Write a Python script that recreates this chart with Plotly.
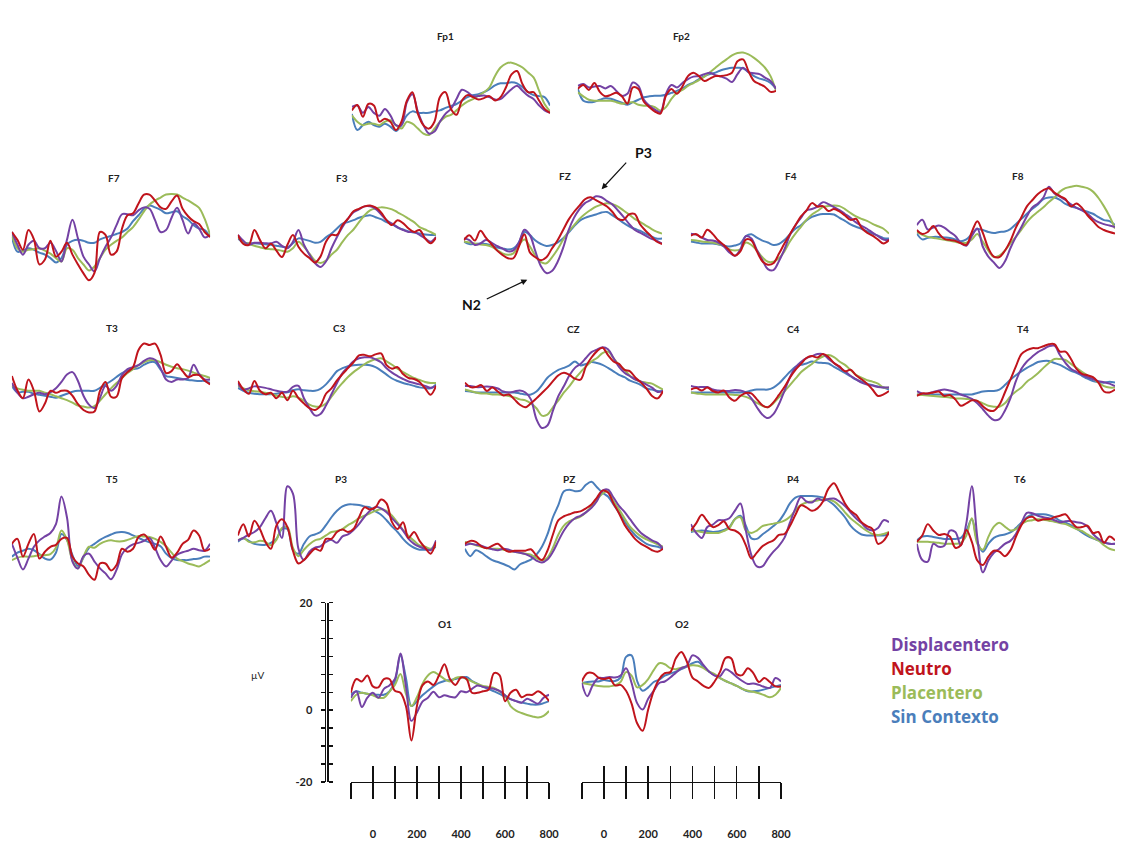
import plotly.graph_objects as go

W, H = 1125, 846

# ---------------- data (µV) ----------------
TIMES = list(range(-100, 801, 25))  # ms
CONDITIONS = ["Displacentero", "Neutro", "Placentero", "Sin Contexto"]
COLORS = ["#7442A4", "#C0141C", "#9BBB59", "#4A7EBB"]

FP1_DISP = [1.7, 2, 0.5, 1.7, 0.5, -0.1, 1.3, 0, -2, -2, 2.7, 4.3, 0.7, -2, -3.7, -3.3, -1.3, 0.3, 1.3, 3.3, 5.2, 4.7, 3.9, 3.9, 4, 3.7, 3.2, 3.3, 4.3, 5.3, 6, 5, 4, 3.3, 2, 1, 0.5]
FP1_NEU = [1, 2.1, -0.3, 2.3, 2, -1.3, -0.7, -1.3, -3, -1.3, 3, 4.7, 0.3, -2, -2.7, -1.3, 3.7, 4.7, 1.3, 0.1, 3, 4.1, 3.7, 3.2, 3.5, 3.9, 3, 3.7, 5.7, 8.3, 9, 6.3, 4.7, 4.7, 3, 1.3, 0.5]
FP1_PLA = [0, -1.3, -2, -1.7, -1.7, -2, -1.3, -1, -2, -2.7, -1.3, -1.7, -2.7, -3.7, -4, -2.7, -1.3, -0.3, 0.1, 1, 2, 2.8, 3.3, 4, 4.7, 5.7, 8, 9.7, 10.5, 10.7, 10.3, 9.7, 8.7, 7.7, 5, 2.3, 0.8]
FP1_SIN = [0.3, -3, -2, -1.3, -2, -2.3, -1.7, -2.3, -3.2, -2, 0, 0.8, 0.5, 0.5, 0.5, 0.8, 1, 1.5, 1.9, 2.3, 3, 3.7, 4.1, 4.3, 4.7, 5.3, 6.1, 6.5, 6.5, 6.7, 6.5, 5.7, 4.7, 4.1, 3.9, 3.7, 2]

FP2_DISP = [1.3, 1.7, 1, 1.2, 1.3, 0.8, 1.3, 0.3, -0.7, -0.3, 2, 1.3, -1.5, -2.7, -3.5, -4, -0.3, 1.5, 1, 1.9, 2.7, 3.2, 3.3, 3.7, 4, 3.5, 3.2, 2.8, 2.1, 3.7, 5, 4.1, 3.9, 3.7, 3, 2.3, 0.7]
FP2_NEU = [0.7, 1.5, 0.5, 1.9, 0.1, -0.8, -0.5, -0.1, -0.8, -2.3, 1, 0.7, -1.9, -3, -3.9, -4.3, -0.7, 0.7, -0.3, 1.2, 3.3, 4, 3.3, 2.3, 2.8, 3.3, 3.3, 3.5, 4, 6.3, 6.7, 4.3, 2.3, 1.7, 1.1, 0.1, 0.3]
FP2_PLA = [0, -0.8, -1.5, -1.7, -1.7, -1.7, -1.7, -2, -2.3, -2.1, -2, -2.5, -2.7, -2.7, -3, -3.7, -3, -1.3, -0.1, 0.5, 1.3, 1.9, 2.5, 3.2, 4.1, 5, 5.9, 6.7, 7.5, 8, 8.1, 7.7, 7, 6.1, 5, 3.3, 0.3]
FP2_SIN = [0.7, -1.7, -2, -1.9, -1.5, -1.2, -1.3, -1.7, -2.1, -2.5, -2, -1.5, -1, -0.8, -0.7, -0.7, -0.5, -0.1, 0.3, 0.8, 1.5, 2, 2.7, 3.3, 3.7, 4, 4.5, 4.8, 5, 5, 4.9, 4.1, 3.3, 2.8, 2.5, 1.9, 0.7]

F7_DISP = [2.3, -0.3, -2.3, -0.3, 0.5, -1, -1, 0.1, -1.5, -3.7, 0.7, 4.8, 1, -2.7, -4.3, -5.7, -3, -0.7, 1.2, 3.7, 5.9, 5.9, 5.7, 6.7, 7.3, 7, 4.7, 2.3, 2.7, 5.2, 7.2, 4.7, 2, 4, 3, 1.2, 1.7]
F7_NEU = [2.3, 0.7, -1.3, 2.7, 0.8, -4.3, -3.3, 0.5, -2.7, -1.7, 0.1, -2.3, -4.3, -6.1, -7.5, -6, 2.3, 1.7, -2.3, -1.7, 3, 5.7, 6.1, 8.1, 9.9, 9.9, 8.7, 7.3, 7, 8.5, 9.7, 7, 5.5, 4.5, 3.9, 2.3, 1.3]
F7_PLA = [1.7, -1, -1.7, -1.3, -1.2, -1, -1.5, -2.1, -3, -3.7, -1, -1.3, -3, -4.3, -5.5, -4.7, -3, -1.3, -0.3, 0.5, 1.2, 2.3, 3.3, 4.8, 6.5, 7.9, 8.7, 9.3, 9.9, 10, 9.9, 9.3, 8.7, 8, 7.2, 5, 1.7]
F7_SIN = [1.3, -1.7, -1.5, -1, -1.3, -1.9, -2.3, -3, -3.9, -3, -0.3, 0.5, 0.7, 0.5, 0.1, 0.1, 0.8, 1.2, 1.5, 1.9, 2.3, 3, 4.5, 5.7, 7, 7.7, 7.3, 6.8, 6.1, 6.3, 6.5, 5.5, 4.8, 3.7, 3, 2.7, 1.3]

F3_DISP = [1.7, 0.5, -0.3, 0.1, 0.1, 0, 0, 0.3, -0.5, -1, 0.3, 2.7, -0.3, -2.3, -4, -4.8, -3.7, -1, 1.3, 3.3, 5, 6.3, 6.9, 7.5, 7.5, 7, 5.9, 4.7, 4, 3.3, 2.7, 2.3, 2.3, 1.7, 1, 0.3, 1.3]
F3_NEU = [1.7, -0.1, -0.3, 2.7, 0.7, -1, -0.1, -1.5, -2.8, -0.3, 1.7, -0.7, -2.1, -3, -3.9, -2.7, 0.3, 1.7, 1.7, 3.7, 5, 6.5, 7, 7.5, 7.7, 7.3, 6.3, 4.7, 3.7, 4.7, 4.1, 3, 2.3, 2.7, 1, 0, 1.2]
F3_PLA = [1.3, 0.3, -0.1, -0.5, -0.8, -1.1, -1.2, -1.3, -1.5, -1.7, -1, 0.3, -0.7, -2.1, -3.5, -4, -3.5, -2.3, -1.3, 0.3, 1.7, 2.8, 4.3, 5.7, 6.7, 7.1, 7.3, 7.2, 6.9, 6.3, 5.7, 5, 4.3, 3.3, 2.8, 2.3, 1.7]
F3_SIN = [1, 0.1, 0, 0, -0.1, -0.2, -0.3, -0.5, -0.7, -0.8, 0, 1, 0.8, 0.5, 0.1, 0.3, 1.2, 2, 3, 4, 4.3, 4.7, 5.2, 5.5, 5.7, 5.3, 4.9, 4.3, 3.9, 3.2, 2.8, 2.4, 2.2, 2, 1.8, 1.7, 1.7]

FZ_DISP = [0.3, 0, -1, -0.7, 0, -0.5, -1.2, -1.7, -2.3, -2.1, -0.5, 2.1, 1, -2.3, -5.3, -6.7, -6.3, -4.5, -1.7, 1.9, 4.5, 6.3, 7.5, 8.1, 8.9, 8.7, 7.9, 7.2, 6, 4.7, 3.3, 2.1, 1.5, 0.9, 0.3, -0.1, -0.7]
FZ_NEU = [0, 1, -0.1, 1.9, 0.5, -0.8, -2.1, -3, -3.7, -3.7, -1.3, 1.2, -2.5, -3.5, -4.1, -3.5, -1.7, -0.1, 2, 4.1, 5.7, 7, 8.3, 8.7, 8.1, 7.5, 6.8, 5.7, 4.3, 4.1, 5.2, 5.3, 3.2, 1.9, 0.8, -0.3, -0.8]
FZ_PLA = [-0.3, -0.5, -0.7, -0.9, -1, -1.3, -2, -2.7, -3, -2.7, -1, 0.1, -1.3, -3.2, -4.5, -4.7, -3.5, -1.9, 0, 1.7, 3, 4.3, 5.3, 6.1, 6.8, 7.2, 7.5, 7.3, 6.8, 6, 5.2, 4.3, 3.7, 3, 2.3, 1.7, 1.3]
FZ_SIN = [-0.3, -0.8, -0.8, -0.7, -0.8, -1.1, -1.5, -1.7, -1.9, -1.7, -0.5, 1.7, 1, -0.1, -0.8, -1.2, -1, -0.5, 0.3, 1.5, 2.8, 3.9, 4.5, 4.9, 5.2, 5.6, 5.7, 5, 4.3, 3.5, 2.8, 2.3, 1.9, 1.3, 0.8, 0.3, 0.3]

F4_DISP = [1.3, 1.1, 0.5, 0, -0.1, -0.5, -1.3, -2.5, -3.2, -1.9, 0.8, 0.3, -2, -4.1, -5.9, -6.1, -4.3, -1.9, 1, 3, 4.5, 6, 6.3, 6.8, 7.7, 7.3, 6.7, 6.1, 5.3, 4.5, 3.6, 2.9, 2.3, 1.5, 0.8, 0.1, 0]
F4_NEU = [0.9, 1.2, 0.5, 2.1, 1.2, -0.1, -1, -2.1, -3.2, -2.3, 0.1, -0.1, -2.3, -4.3, -5, -4.7, -2.8, -0.7, 1.2, 3, 4.8, 6, 7.5, 6.8, 6.9, 5.9, 6.3, 5.8, 5, 4.1, 4.3, 2.5, 1.5, 0.9, 0.1, -0.7, 0]
F4_PLA = [0, -0.1, -0.3, -0.4, -0.5, -0.8, -1.2, -1.9, -2.1, -1.9, -0.5, -1, -2.1, -3.5, -4.4, -4.4, -3.7, -2.3, -0.3, 1.3, 2.7, 4.1, 5.2, 5.9, 6.7, 6.9, 7, 6.9, 6.3, 5.5, 4.8, 4.3, 3.9, 3.3, 2.8, 2.3, 1.3]
F4_SIN = [-0.3, -0.5, -0.7, -0.7, -0.7, -0.9, -1.1, -1.3, -1.1, -0.7, 0.8, 1.2, 0.5, -0.1, -0.5, -1, -0.8, 0, 1.2, 2.3, 3, 4, 4.7, 5.1, 5.3, 5.3, 5.2, 4.5, 3.9, 3.2, 2.7, 2.3, 1.8, 1.3, 0.9, 0.4, 0.3]

F8_DISP = [1.7, 2.8, 0.8, 1.2, 1.6, 1.2, 0.3, -0.5, -1.9, -2.5, -0.5, 1, -2.7, -4.7, -5.9, -7, -5.7, -3, -0.7, 1.3, 3.5, 5.3, 6.1, 7.3, 9.5, 8.1, 7.5, 6.8, 5.9, 5.2, 4.7, 4, 3, 2.3, 1.9, 1.6, 1.3]
F8_NEU = [0.7, -0.1, 0.3, 1.5, 0, -1.1, -1.3, -1.5, -2, -2.3, 0.3, 2.5, 0.1, -3, -4.7, -4.8, -3.5, -1.5, 1.2, 3.3, 5.5, 6.8, 8, 8.8, 9.2, 8.3, 7.6, 7, 5.5, 6.1, 5.2, 3.7, 2.5, 1.3, 0.7, 0.3, 0]
F8_PLA = [0.3, -0.3, -0.7, -0.9, -1.1, -1.3, -1.5, -1.7, -1.9, -1.9, -1.2, -0.1, -1.7, -3.5, -4.8, -4.5, -3.5, -2, -0.7, 0.8, 2.3, 3.5, 4.4, 5.3, 6.4, 7.3, 8.5, 9.2, 9.5, 9.7, 9.5, 9.2, 8.5, 7.2, 5.5, 3.5, 1]
F8_SIN = [0, -1.2, -0.9, -0.7, -0.7, -0.8, -0.9, -1.2, -1.6, -1.2, -0.1, 0.9, 0.7, 0.3, 0.1, 0.3, 0.4, 0.9, 1.9, 3, 4, 5, 5.9, 7, 7.3, 7.3, 6.8, 6, 5.5, 5.2, 4.8, 4.4, 4, 3.3, 2.7, 2.5, 1.7]

T3_DISP = [1.3, -0.7, -1.8, -1.5, -1, -0.7, -1, -0.6, 0.2, 1.5, 3, 3.5, 1.7, -1.3, -3.1, -3.8, -1.7, 0.7, -0.3, 0.7, 2.9, 4.1, 4.5, 4.9, 5.8, 6.3, 6, 4.3, 2, 1.5, 2, 2, 2.3, 5, 3.1, 2, 2]
T3_NEU = [2.7, -0.2, -1.8, 2, -0.3, -4.5, -2.9, -0.3, -0.7, -0.3, -0.3, -1.3, -3, -4.2, -4.7, -4.5, -0.3, 1.5, -1.5, -1.5, 2.3, 3.5, 4.5, 8, 9.3, 9, 9.3, 7, 3.3, 3.7, 5.1, 3.7, 2.5, 2.9, 2.9, 1.8, 1]
T3_PLA = [0.7, 0.2, -0.1, -0.3, -0.3, -0.3, -0.7, -1, -1.4, -1.8, -2.2, -2.7, -3.3, -3.5, -3.7, -3.4, -2.3, -1, 0.2, 1.3, 2.3, 3.3, 4.1, 4.9, 5.5, 5.9, 5.9, 5.5, 5, 4.6, 4.3, 4.1, 3.8, 3.4, 3, 2.7, 2.3]
T3_SIN = [0.7, -0.6, -0.5, -0.5, -0.9, -1.1, -1.3, -1.5, -1.7, -1.3, -0.9, -0.5, -0.3, -0.3, -0.3, -0.3, 0.3, 1, 1.7, 2.5, 3.3, 3.8, 4.1, 4.3, 5, 5.5, 5.5, 4, 2.7, 2.5, 2.3, 2.1, 1.9, 1.8, 1.7, 1.7, 1.3]

C3_DISP = [1.3, -0.1, 0.2, 0.6, 0.5, 0.3, 0, -0.3, -0.5, -0.5, 0.5, 0.7, -1.8, -3.8, -5.3, -5, -3.3, -1, 1.3, 3.3, 4.5, 5.7, 6.3, 6.5, 6.5, 6.1, 5.5, 4.3, 3.4, 2.7, 2.1, 1.6, 1.3, 1, 0.7, 0.3, 0.7]
C3_NEU = [1.7, 0, -0.9, 1.7, -0.3, -1, -0.7, -1.8, -0.7, -2.2, -0.3, -1.8, -2.9, -3.8, -4.2, -3.3, -0.9, 0.2, 1.8, 3.1, 4.3, 5.5, 6.9, 7, 6.7, 7.1, 7.3, 4.9, 4.2, 4.5, 3.1, 2.3, 2.1, 1.5, 0.2, -1.1, 0.7]
C3_PLA = [0.7, 0.2, -0.2, -0.4, -0.5, -0.7, -0.9, -1.3, -1.5, -1.7, -1.4, -1.7, -2.3, -3.1, -3.5, -3.5, -2.9, -1.5, 0, 1.3, 2.5, 3.5, 4.3, 5.1, 5.7, 6.1, 6.3, 5.7, 5, 4.2, 3.5, 2.9, 2.3, 1.9, 1.5, 1.3, 1.3]
C3_SIN = [0.3, -0.3, -0.7, -0.9, -1, -1, -1, -0.9, -0.7, -0.6, -0.2, 0, -0.2, -0.3, -0.3, 0.1, 1, 2.3, 3.7, 4.3, 4.7, 4.9, 5, 5, 4.9, 4.5, 3.8, 3, 2.2, 1.7, 1.3, 1, 0.7, 0.4, 0.3, 0.2, 1]

CZ_DISP = [1, 1, 0.8, 0.8, 0.9, 0.8, 0.5, -0.1, -0.3, -0.1, 0.1, -0.3, -1.7, -5.7, -7.5, -7, -4, -1, 1, 3.2, 4.7, 5.5, 6.7, 7.9, 8.4, 8.9, 8.5, 6.7, 4.9, 3.7, 3, 2.3, 1.9, 1.3, 0.7, -0.2, 0]
CZ_NEU = [1.7, 0.8, 0.8, 1.2, 0, 0.7, -0.1, -0.9, -0.7, -1.7, -2.8, -3.3, -2.5, -1.5, -0.4, 0.7, 2, 3.2, 3.7, 3.3, 2.5, 2.3, 5, 6.8, 8.1, 8.8, 7.3, 6, 5.5, 4.3, 4, 2.7, 1.7, 0.5, -1, -1.5, 0]
CZ_PLA = [0.3, 0, -0.3, -0.5, -0.5, -0.7, -0.7, -0.8, -1, -1.3, -1.7, -1.9, -2.5, -3.5, -5, -4.8, -3.3, -1.9, -0.3, 1, 2.5, 3.8, 5, 6, 6.7, 7.7, 8, 6.7, 5.3, 4.3, 3.1, 2.3, 1.9, 1.7, 1.5, 0.9, 0.3]
CZ_SIN = [0, -0.1, -0.3, -0.3, -0.3, -0.3, -0.3, -0.3, -0.3, -0.3, -0.5, -0.7, -0.7, -0.1, 1.2, 2.7, 3.6, 4.3, 4.7, 5.2, 6, 5.2, 5.5, 5.9, 5.7, 5.3, 4.7, 4, 3.3, 2.8, 2.1, 1.7, 1.2, 0.5, 0.3, 0, 0]

C4_DISP = [1, 0.8, 0.8, 0.8, 0.3, 0.1, 0, 0, 0.2, 0.1, -0.3, -1.5, -3.3, -4.8, -5.5, -4.7, -2.7, 0, 2.8, 4.8, 5.9, 6.7, 7.1, 7.5, 7.5, 6.5, 5.7, 4.8, 4, 3.1, 2.4, 1.7, 1.3, 1.1, 0.8, 0.7, 0.7]
C4_NEU = [0.3, 0.6, 0.1, 0.7, 0, -0.3, 0.1, -1.3, -2, -1, -0.4, -0.5, -1.7, -2.9, -3.3, -2.3, -0.8, 0.8, 2.7, 4.3, 5.5, 6.7, 7.1, 6.8, 7.5, 6.9, 5.7, 5, 4, 4.3, 3.2, 2.4, 1.5, 0.3, -1, -0.7, 0]
C4_PLA = [-0.3, -0.5, -0.6, -0.7, -0.7, -0.7, -0.7, -0.7, -0.8, -0.9, -1.2, -1.7, -2.4, -3, -3.3, -2.5, -1.3, -0.1, 1.2, 2.5, 3.8, 4.7, 5.5, 6.4, 7, 7.3, 6.9, 6, 5.3, 4.3, 3.3, 2.7, 2.2, 1.9, 1.5, 0.7, 0.7]
C4_SIN = [-0.3, -0.3, -0.3, -0.3, -0.3, -0.3, -0.3, -0.3, -0.3, -0.3, -0.2, 0.1, 0.3, 0.3, 0.3, 0.7, 1.5, 2.7, 3.9, 4.9, 5.3, 5.6, 6, 5.8, 5.7, 5.6, 4.9, 4.3, 3.7, 3, 2.3, 1.9, 1.5, 1.2, 0.9, 0.7, 0.3]

T4_DISP = [0, -0.5, -0.5, -0.2, 0.1, 0.3, 0.1, -0.2, -0.7, -1.1, -1.6, -2.5, -3.7, -5, -5.9, -5.7, -4, -1.5, 2, 4.5, 6, 7, 7.9, 8.5, 9.1, 9.2, 7.3, 5.7, 4.5, 3.9, 3.3, 2.8, 2.4, 2, 1.8, 1.5, 1]
T4_NEU = [-1, -0.5, -0.5, -0.3, -0.1, -1, -0.8, -1.7, -3, -2.5, -1.9, -2, -3.1, -3.9, -4, -2.8, -0.3, 2.3, 5, 7.5, 8.3, 8.7, 8.7, 9.1, 9.5, 9.5, 8, 8, 6.5, 4.5, 3.5, 3.2, 2.8, 1.7, -0.1, -0.3, 0.3]
T4_PLA = [-0.7, -0.8, -0.9, -1, -1.1, -1.2, -1.3, -1.5, -1.5, -1.6, -1.7, -2, -2.5, -3, -3.2, -3.2, -2.5, -1.1, -0.1, 0.7, 1.9, 2.7, 3.6, 4.7, 5.7, 6.5, 6.5, 6.3, 5.5, 4.7, 3.9, 3.2, 2.5, 1.7, 1, 0.7, 0.7]
T4_SIN = [-0.7, -0.7, -0.7, -0.7, -0.7, -0.7, -0.7, -0.7, -0.7, -0.7, -0.7, -0.4, -0.1, 0, 0, 0.3, 1.2, 2.3, 3.2, 4, 4.7, 5.3, 5.9, 6.1, 6.1, 5.7, 5.3, 4.7, 4.1, 3.7, 3.1, 2.5, 2, 1.8, 1.7, 1.9, 1.7]

T5_DISP = [1.3, -1.5, -3.9, -1.7, 0.7, 2, 2.8, 3.5, 5.3, 10.9, 6.7, -2.3, -3.7, -1.2, -0.7, -2.3, -3.7, -4.7, -5.9, -4, -0.8, 0.5, 1.2, 1.5, 1.9, 2.5, 0.5, -2, -3.3, -2.1, -0.9, -0.4, -0.1, 0.3, 0, -0.1, 1.3]
T5_NEU = [1.3, 2.3, -1.3, 1.3, 3.3, -1.7, -0.3, 0.7, 1.1, 2.3, 2.5, -1.3, -2.7, -3.3, -5, -6, -2.7, -2.7, -4.1, -3, 0.3, -0.3, 0.3, 2.7, 3.2, 1.9, 0.1, 2.8, 0.7, -1.5, -0.5, 1.3, 2.1, 4, 3, -0.1, 0.3]
T5_PLA = [-2, -1.5, -1.3, -1.3, -1.2, -1, -1, -0.8, 0.5, 4, 2.1, -2.1, -3.7, -1.3, 0.7, 0.5, 1.3, 1.8, 2, 1.8, 1.8, 2.1, 2.5, 2.9, 2.8, 2.7, 2.3, 1.7, 0.8, -0.5, -1.7, -2.2, -2.7, -3, -3.3, -2.7, -2]
T5_SIN = [-1.3, -0.5, -0.1, 0.3, 0, -0.8, -1.7, -1.9, -0.5, 3.3, 2.1, -1, -3.2, -1.5, 0.5, 1.3, 2.1, 2.7, 3.2, 3.6, 3.7, 3.5, 3, 2.5, 2, 1.6, 1.3, 0.8, -0.7, -1.6, -2, -2, -2, -1.8, -1.7, -1.3, -1.3]

P3_DISP = [1, 1.5, 2.2, 2.7, 3.7, 5.5, 7, 4.5, 1.5, 12, 10.5, -0.7, -3, -1.3, -0.5, -0.2, 0.7, 1.1, 0.5, 1.8, 2.2, 3.1, 4.3, 5.8, 7, 7.8, 7.5, 6.7, 5.5, 4.3, 3, 1.3, 0.3, -0.3, -0.7, -1, 1]
P3_NEU = [2, 4.3, 1.8, 5, 3.3, 0.7, -0.7, 4, 5.3, 3.7, -1.1, -3.7, -3, -1.8, -0.7, -1.1, 1.3, 1.3, 2.7, 3.2, 2.7, 3.3, 5.7, 7.7, 7.3, 7.7, 9.3, 8.5, 4.7, 3.3, 4.7, 1.5, 2.7, 0.9, -0.5, -1.7, 0.7]
P3_PLA = [1, 1.5, 0.7, 0.6, 0.9, 0.7, 0, 1.1, 3.5, 3.7, -0.5, -2.2, -0.9, 0.2, 1, 1.3, 2, 2.7, 2.9, 3.3, 4.1, 4.7, 5.5, 6, 6.5, 7, 7.3, 7, 6, 4.6, 3.1, 1.9, 0.9, 0, -0.3, -0.7, 0]
P3_SIN = [0.7, 1.4, 0.9, 0.3, 0.1, 0.1, 0.5, 1.3, 3.3, 3.3, -1, -1.7, 0.3, 1.8, 2.2, 2.7, 4.1, 5.7, 7, 7.9, 8.3, 8.3, 8.2, 7.9, 7.7, 6.9, 6.2, 5.1, 3.8, 2.7, 1.3, 0.2, -0.5, -0.9, -0.9, -0.9, -0.3]

PZ_DISP = [0, 0.3, 0.1, -0.1, -0.5, -0.8, -1, -0.7, -0.9, -1.3, -1.5, -1.8, -2.3, -3.1, -3.5, -2.9, -1.3, 0.9, 3, 4.5, 5.5, 6, 6.7, 7.6, 9, 11.1, 11.3, 9.7, 8, 6.8, 5.3, 3.8, 2.5, 1.7, 1, 0.5, -0.7]
PZ_NEU = [0.3, 0.9, 0.7, -0.2, -0.6, -0.1, 0.3, -0.7, -1.3, -1.1, -1.1, -1.1, -0.8, -2.1, -3, -1.1, 2.2, 5.1, 5.9, 6.3, 6.7, 6.9, 7.5, 8.3, 9.7, 11.1, 10.7, 8.5, 6.5, 4.2, 2.6, 1.2, 0.3, -0.3, -1, -1.3, -0.7]
PZ_PLA = [0.7, 0.4, 0, -0.3, -0.6, -0.7, -0.7, -0.9, -1.1, -1.3, -1.5, -1.7, -1.9, -2.6, -3.1, -2.5, -0.5, 2.2, 4, 4.9, 5.4, 5.8, 6.7, 7.9, 9.3, 10.5, 11, 9, 7.3, 5.5, 3.8, 2.7, 1.8, 1.2, 0.7, 0.2, -0.3]
PZ_SIN = [-0.7, -2.2, -1, -1.5, -2.3, -3, -3.4, -3.8, -4.3, -4.9, -3.9, -3.4, -2.9, -1.9, -0.3, 2.2, 5.7, 8.2, 11, 11.3, 11, 11.1, 12.3, 12.9, 11.8, 10.7, 9.9, 8.3, 6.6, 4.9, 3.3, 2, 1.1, 0.3, -0.1, -0.3, -0.7]

P4_DISP = [2.3, 0.5, -0.5, 1.7, 2.2, 3.1, 3.1, 3.5, 5, 6.5, 1, -4, -6.3, -6.3, -4.7, -3.3, -2.1, -0.5, 2.6, 5.5, 7.8, 6.9, 6.7, 7.5, 7.1, 7.4, 7.5, 6.9, 6, 4.7, 3.5, 2.5, 1.4, 1, 1.5, 3.1, 2.7]
P4_NEU = [1, 2.5, 4.2, 2.9, 1.7, 2.1, 2.9, 1.3, 1, 0.2, -2, -4.7, -3.5, -2.2, -1.5, -1, 0.1, 0.3, 1.9, 4.2, 6.1, 5.7, 5, 5.5, 6.9, 9.5, 10.6, 8.7, 6.5, 5, 4.2, 2.7, 1.9, 1.3, -1.7, -1.1, 0.7]
P4_PLA = [1, 0.9, 0.7, 0.5, 0.5, 0.5, 0.9, 1.5, 3.3, 3.7, 1, 0.5, 1, 1.9, 2.2, 2.4, 2.6, 3, 3.8, 5.1, 6.2, 6.7, 6.9, 7.1, 7.3, 7.3, 6.9, 6, 4.7, 3.5, 2.6, 1.7, 0.9, 0.3, 0.1, 0.3, 0.7]
P4_SIN = [0.7, 0.9, 1, 0.9, 0.7, 0.8, 1.1, 1.7, 3.3, 4, 2, -0.6, -0.7, 0.2, 1, 1.9, 2.9, 4.5, 6.5, 7.7, 8, 8, 8, 7.9, 7.7, 7, 6.2, 5, 3.7, 2, 0.9, 0.2, 0, 0, 0, 0, 0.3]

T6_DISP = [-0.7, -4, -4.3, -0.7, -1.3, -1.1, 2, 1.7, -1, 3.5, 11, 0.5, -6.5, -4.1, -2.5, -1.7, -0.7, -0.1, 1.3, 3.5, 5.6, 5.5, 5, 4.7, 4.5, 4.1, 3.7, 3.9, 3.9, 3.7, 3.5, 2.8, 1.3, 0.3, -0.4, -0.7, -0.7]
T6_NEU = [-0.3, 1, 3.3, 2, 1.1, 1.3, 0.8, -1.5, -1, 2.1, -0.3, -4.1, -5, -3.3, -2.1, -2.3, -3.2, -2, 0.7, 3.1, 4.5, 4.8, 4, 4.3, 4.3, 4.7, 5, 5.3, 3.9, 2.7, 2.7, 3, 1.5, 1.7, -0.5, 0.8, 0]
T6_PLA = [-0.3, -0.3, -0.3, -0.4, -0.5, -0.7, -0.7, -0.7, -0.5, 1, 4.5, -0.7, -1.9, 0.7, 2.8, 3.6, 2.8, 2, 2.3, 3.3, 3.9, 4.1, 4.3, 4.2, 4, 3.8, 3.5, 3.3, 2.8, 2.3, 1.9, 1.2, 0.5, 0, -1, -1.7, -2]
T6_SIN = [0, 0.8, 0.9, 0.7, 0.5, 0.3, 0.3, 0.3, 0.5, 2, 4.3, -0.3, -2.3, -0.7, 0.5, 1, 1.2, 1.6, 2.5, 3.6, 4.7, 5.2, 5.3, 5.3, 5.1, 4.7, 4, 3.6, 3.1, 2.4, 1.6, 0.9, 0.4, 0, -0.4, -0.7, -0.7]

O1_DISP = [-1.3, 0, -3.2, -1.3, -0.3, -1.3, 0.5, 1.2, 2.5, 7.7, 1, -6, -4.3, -2.1, -1.3, -0.1, -1.2, -0.8, -1.1, -1.2, 0, -0.2, 0.5, 1.2, 0.9, 0.7, 0.5, 0.1, -0.8, -1.6, -2, -2.3, -1.5, -2, -2.5, -1.3, -0.7]
O1_NEU = [-0.3, 2.5, 2, 3.2, 1, 0.8, 2.5, 2.5, 0.1, -0.3, -3, -10, -3, 1.2, 2, 1.3, 3.2, 5.5, 2.5, 1.3, 2.8, 2.5, -0.3, -0.3, 0, 0.3, 3.7, 3.3, -2, -0.3, 0.3, -1.2, -0.7, -0.7, 0, -0.7, -2]
O1_PLA = [-2, -0.7, -0.3, -0.5, -0.8, -1.3, -1.3, -0.1, 1.3, 3.5, -0.5, -3, -1.2, 1.5, 3.2, 3.9, 3.3, 2.5, 2, 2.7, 2.9, 2.5, 2, 1.5, 1.1, 0.9, 0.7, 0, -0.8, -3, -3.9, -4.4, -4.8, -5.1, -5.3, -5, -4]
O1_SIN = [-0.7, 0, -0.3, -0.5, -0.7, -0.7, -0.7, 0, 2, 7.3, 2.7, -3, -2, -0.8, 0.1, 1, 1.7, 2.1, 2.3, 2.5, 2.8, 2.9, 2.1, 1.5, 0.9, 0.5, 0, -0.5, -1.1, -1.6, -2, -2.3, -2.5, -2.7, -2.7, -2.4, -2]

O2_DISP = [-0.3, -3, -0.7, 0.7, 0.7, 0.9, 0.8, 1.2, 2.7, -0.3, -4.4, -5.7, -3.5, -1.9, -0.3, 0, 0.8, 1.8, 2.7, 3.2, 5.3, 4.8, 3.3, 2, 1.2, 1.1, 2.5, 1.9, 0.9, 0.1, -0.5, -0.4, -0.7, -1.1, -1.3, 0.7, 0]
O2_NEU = [0, 1.7, 1.7, 0.8, 0.5, 0.7, -0.8, -0.7, -1.9, -4.5, -8.5, -10, -5.7, -1.9, 0.5, 1.7, 1.9, 4.7, 6, 4, 0.8, 0, -0.9, -1.3, 0, 2, 4.8, 4.7, 1.5, 1.3, 2.7, 1.7, -0.1, 0.7, -0.1, -1, -1]
O2_PLA = [-0.3, -0.5, -0.7, -0.9, -1, -1, -0.8, -0.1, 1.9, 1.2, -1.2, -0.7, 0.5, 2.3, 3.7, 3.5, 2.7, 2.5, 2.8, 3.1, 3.3, 3.2, 2.7, 2, 1.5, 0.7, 0.1, -0.4, -0.9, -1.5, -1.9, -2.1, -2.4, -2.8, -3.2, -2.7, -1.3]
O2_SIN = [-0.3, -0.1, 0, 0, 0.3, 0.1, 0.1, 0.8, 5, 5.3, 0.1, -1.9, -1.2, -0.1, 0.4, 1.2, 1.6, 2, 2.5, 3, 3.7, 4, 3, 2, 1.3, 0.7, 0.1, -0.4, -0.9, -1.5, -2, -2, -1.9, -1.6, -1.3, -1, -0.7]

ELECTRODE_DATA = {
    "Fp1": [FP1_DISP, FP1_NEU, FP1_PLA, FP1_SIN],
    "Fp2": [FP2_DISP, FP2_NEU, FP2_PLA, FP2_SIN],
    "F7": [F7_DISP, F7_NEU, F7_PLA, F7_SIN],
    "F3": [F3_DISP, F3_NEU, F3_PLA, F3_SIN],
    "FZ": [FZ_DISP, FZ_NEU, FZ_PLA, FZ_SIN],
    "F4": [F4_DISP, F4_NEU, F4_PLA, F4_SIN],
    "F8": [F8_DISP, F8_NEU, F8_PLA, F8_SIN],
    "T3": [T3_DISP, T3_NEU, T3_PLA, T3_SIN],
    "C3": [C3_DISP, C3_NEU, C3_PLA, C3_SIN],
    "CZ": [CZ_DISP, CZ_NEU, CZ_PLA, CZ_SIN],
    "C4": [C4_DISP, C4_NEU, C4_PLA, C4_SIN],
    "T4": [T4_DISP, T4_NEU, T4_PLA, T4_SIN],
    "T5": [T5_DISP, T5_NEU, T5_PLA, T5_SIN],
    "P3": [P3_DISP, P3_NEU, P3_PLA, P3_SIN],
    "PZ": [PZ_DISP, PZ_NEU, PZ_PLA, PZ_SIN],
    "P4": [P4_DISP, P4_NEU, P4_PLA, P4_SIN],
    "T6": [T6_DISP, T6_NEU, T6_PLA, T6_SIN],
    "O1": [O1_DISP, O1_NEU, O1_PLA, O1_SIN],
    "O2": [O2_DISP, O2_NEU, O2_PLA, O2_SIN],
}

SCALE_Y_LABELS = ["-20", "", "", "", "0", "", "", "", "", "", "20"]
SCALE_X_TICKS = list(range(-100, 801, 100))
SCALE_X_LABELS = ["", "0", "", "200", "", "400", "", "600", "", "800"]

# ---------------- layout (pixels) ----------------
# name: (x at -100 ms, x at 800 ms, y of 0 µV, title x, title y)
PANELS = {
    "Fp1": (355, 555, 110.0, 449, 29),
    "Fp2": (583, 783, 86.7, 688, 29),
    "F7": (12, 212, 240.0, 115, 174),
    "F3": (240, 440, 240.0, 345, 174),
    "FZ": (468, 668, 236.7, 570, 172),
    "F4": (697, 897, 236.7, 798, 172),
    "F8": (925, 1125, 230.0, 1027, 172),
    "T3": (12, 212, 388.3, 113, 326),
    "C3": (240, 440, 388.3, 343, 326),
    "CZ": (469, 669, 390.0, 579, 327),
    "C4": (697, 897, 390.0, 801, 327),
    "T4": (925, 1125, 390.0, 1032, 327),
    "T5": (12, 212, 551.7, 113, 479),
    "P3": (240, 440, 546.7, 344, 479),
    "PZ": (469, 669, 546.7, 574, 479),
    "P4": (697, 897, 536.7, 800, 479),
    "T6": (925, 1125, 541.7, 1029, 479),
    "O1": (354, 554, 695.0, 449, 627),
    "O2": (587, 788, 685.0, 688, 627),
}
PX_PER_UV = 5.0
HALF_RANGE = 15.0
DRAW_ORDER = [3, 2, 0, 1]

FONT = "Lato, 'Open Sans', 'DejaVu Sans', sans-serif"
LEGEND_FONT = "'Open Sans', Lato, sans-serif"
INK = "#111111"


def px(x):
    return x / W


def py(y):
    return 1 - y / H


fig = go.Figure()
layout = dict(
    width=W, height=H, margin=dict(l=0, r=0, t=0, b=0),
    paper_bgcolor="white", plot_bgcolor="rgba(0,0,0,0)",
    showlegend=False, annotations=[],
)

for k, (name, series) in enumerate(ELECTRODE_DATA.items(), start=1):
    xl, xr, y0, tx, ty = PANELS[name]
    half_px = HALF_RANGE * PX_PER_UV
    xa = "xaxis" if k == 1 else f"xaxis{k}"
    ya = "yaxis" if k == 1 else f"yaxis{k}"
    xr_ref = "x" if k == 1 else f"x{k}"
    yr_ref = "y" if k == 1 else f"y{k}"
    layout[xa] = dict(domain=[px(xl), px(xr)], range=[-100, 800], visible=False,
                      anchor=yr_ref, fixedrange=True)
    layout[ya] = dict(domain=[py(y0 + half_px), py(y0 - half_px)],
                      range=[-HALF_RANGE, HALF_RANGE], visible=False,
                      anchor=xr_ref, fixedrange=True)
    for ci in DRAW_ORDER:
        fig.add_trace(go.Scatter(
            x=TIMES, y=series[ci], mode="lines", xaxis=xr_ref, yaxis=yr_ref,
            line=dict(color=COLORS[ci], width=2, shape="spline", smoothing=1.0),
            name=CONDITIONS[ci], hoverinfo="skip", showlegend=False))
    layout["annotations"].append(dict(
        text=f"<b>{name}</b>", x=px(tx), y=py(ty), xref="paper", yref="paper",
        showarrow=False, xanchor="center", yanchor="middle",
        font=dict(family=FONT, size=10, color="#222222")))

# ---- scale: vertical µV axis (ticks crossing the line) ----
n = len(ELECTRODE_DATA)
sy = n + 1
layout[f"xaxis{sy}"] = dict(domain=[px(329), px(330)], range=[0, 1], visible=False,
                            anchor=f"y{sy}", fixedrange=True)
layout[f"yaxis{sy}"] = dict(domain=[py(787), py(605)], range=[0, 10], anchor=f"x{sy}",
                            tickvals=list(range(11)), ticktext=SCALE_Y_LABELS,
                            ticks="outside", ticklen=4, tickwidth=1.5, tickcolor=INK,
                            showline=True, linewidth=1.5, linecolor=INK, mirror="ticks",
                            showgrid=False, zeroline=False, ticklabelstandoff=6,
                            tickfont=dict(family=FONT, size=11, color="#222", weight="bold"),
                            fixedrange=True)
fig.add_trace(go.Scatter(x=[], y=[], xaxis=f"x{sy}", yaxis=f"y{sy}", showlegend=False))

# ---- scale: time axes under O1 and O2 (two overlaid axes -> crossing ticks) ----
k = sy + 1
for name in ["O1", "O2"]:
    xl, xr = PANELS[name][0], PANELS[name][1]
    base, over = k, k + 1
    common = dict(domain=[px(xl), px(xr)], range=[-100, 800], anchor=f"y{base}",
                  tickvals=SCALE_X_TICKS, ticklen=16, tickwidth=1.5, tickcolor=INK,
                  showgrid=False, zeroline=False, fixedrange=True, side="bottom")
    layout[f"xaxis{base}"] = dict(common, ticktext=SCALE_X_LABELS, ticks="outside",
                                  showline=True, linewidth=1.5, linecolor=INK,
                                  ticklabelstandoff=25,
                                  tickfont=dict(family=FONT, size=11, color="#222", weight="bold"))
    layout[f"xaxis{over}"] = dict(common, overlaying=f"x{base}", ticks="inside",
                                  showticklabels=False, showline=False)
    layout[f"yaxis{base}"] = dict(domain=[py(787), py(765)], range=[0, 1], visible=False,
                                  anchor=f"x{base}", fixedrange=True)
    fig.add_trace(go.Scatter(x=[], y=[], xaxis=f"x{base}", yaxis=f"y{base}", showlegend=False))
    fig.add_trace(go.Scatter(x=[], y=[], xaxis=f"x{over}", yaxis=f"y{base}", showlegend=False))
    k += 2

# ---- µV label ----
layout["annotations"].append(dict(text="µV", x=px(251), y=py(687), xref="paper", yref="paper",
                                  showarrow=False, font=dict(family=FONT, size=10, color="#222")))

# ---- legend (coloured text) ----
for i, (cond, col) in enumerate(zip(CONDITIONS, COLORS)):
    layout["annotations"].append(dict(
        text=f"<b>{cond}</b>", x=px(897), y=py(647 + 24.5 * i), xref="paper", yref="paper",
        showarrow=False, xanchor="left", yanchor="middle",
        font=dict(family=LEGEND_FONT, size=17, color=col)))

# ---- component labels with arrows ----
layout["annotations"] += [
    dict(text="<b>P3</b>", x=px(649), y=py(148), xref="paper", yref="paper", showarrow=False,
         xanchor="center", yanchor="middle", font=dict(family=FONT, size=14, color=INK)),
    dict(text="", x=px(607), y=py(185), xref="paper", yref="paper", showarrow=True,
         axref="pixel", ayref="pixel", ax=26, ay=-28, standoff=0, startstandoff=0,
         arrowhead=2, arrowsize=1, arrowwidth=1.2, arrowcolor=INK),
    dict(text="<b>N2</b>", x=px(476), y=py(302), xref="paper", yref="paper", showarrow=False,
         xanchor="center", yanchor="middle", font=dict(family=FONT, size=14, color=INK)),
    dict(text="", x=px(532), y=py(277), xref="paper", yref="paper", showarrow=True,
         axref="pixel", ayref="pixel", ax=-42, ay=20, standoff=0, startstandoff=0,
         arrowhead=2, arrowsize=1, arrowwidth=1.2, arrowcolor=INK),
]

fig.update_layout(**layout)
fig.write_html("out.html", config={"displayModeBar": False, "staticPlot": True},
               post_script="document.body.style.margin='0';document.body.style.overflow='hidden';")
